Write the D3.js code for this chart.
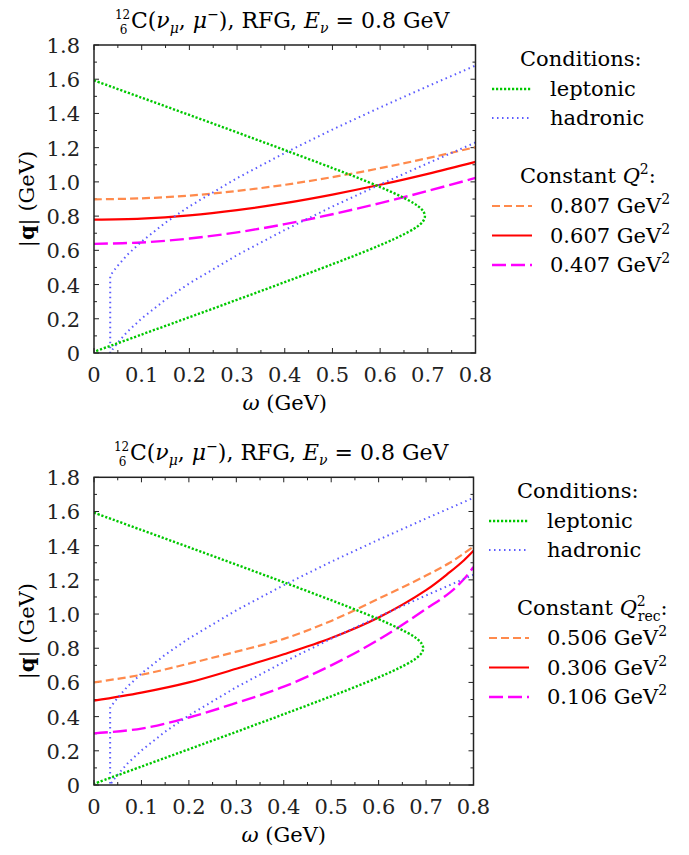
<!DOCTYPE html>
<html>
<head>
<meta charset="utf-8">
<script src="https://cdn.jsdelivr.net/npm/d3@7"></script>
<style>
  body { margin: 0; background: #fff; }
  svg { display: block; }
</style>
</head>
<body>
<div id="chart"></div>
<script>
// Axis ticks
const xTicks = [0, 0.1, 0.2, 0.3, 0.4, 0.5, 0.6, 0.7, 0.8];
const yTicks = [0, 0.2, 0.4, 0.6, 0.8, 1.0, 1.2, 1.4, 1.6, 1.8];

// Leptonic condition (omega, |q|)
const lepW = [0, 0.1, 0.2, 0.3, 0.4, 0.5, 0.55, 0.6, 0.63, 0.65, 0.67, 0.68, 0.69, 0.694,
              0.69, 0.68, 0.67, 0.65, 0.63, 0.6, 0.55, 0.5, 0.4, 0.3, 0.2, 0.1, 0];
const lepQ = [1.593, 1.492, 1.391, 1.289, 1.186, 1.081, 1.027, 0.970, 0.933, 0.906, 0.876, 0.857, 0.830, 0.800,
              0.770, 0.743, 0.724, 0.694, 0.667, 0.630, 0.573, 0.519, 0.414, 0.311, 0.209, 0.108, 0.007];

// Hadronic condition
const hadW = [0.8, 0.7, 0.6, 0.5, 0.4, 0.3, 0.2, 0.15, 0.1, 0.07, 0.05, 0.04, 0.034,
              0.034, 0.036, 0.04, 0.045, 0.05, 0.07, 0.1, 0.15, 0.2, 0.3, 0.4, 0.5, 0.6, 0.7, 0.8];
const hadQ = [1.230, 1.109, 0.985, 0.856, 0.719, 0.572, 0.407, 0.312, 0.202, 0.124, 0.061, 0.025, 0.000,
              0.450, 0.459, 0.475, 0.493, 0.511, 0.574, 0.652, 0.762, 0.857, 1.022, 1.169, 1.306, 1.435, 1.559, 1.680];

// Constant Q^2 (top panel)
const q2W = [0, 0.1, 0.2, 0.3, 0.4, 0.5, 0.6, 0.7, 0.8];
const q2Labels = ["0.807", "0.607", "0.407"];
const q2Vals = [
  [0.898, 0.904, 0.920, 0.947, 0.983, 1.028, 1.080, 1.139, 1.203],
  [0.779, 0.785, 0.804, 0.835, 0.876, 0.926, 0.983, 1.047, 1.117],
  [0.638, 0.646, 0.669, 0.705, 0.753, 0.811, 0.876, 0.947, 1.023]
];

// Constant Q^2_rec (bottom panel)
const q2recW = [0, 0.1, 0.2, 0.3, 0.4, 0.5, 0.6, 0.7, 0.75, 0.78, 0.8];
const q2recLabels = ["0.506", "0.306", "0.106"];
const q2recVals = [
  [0.600, 0.645, 0.710, 0.780, 0.855, 0.960, 1.090, 1.225, 1.300, 1.355, 1.395],
  [0.493, 0.540, 0.600, 0.680, 0.765, 0.860, 0.980, 1.140, 1.245, 1.315, 1.370],
  [0.302, 0.330, 0.395, 0.480, 0.575, 0.700, 0.850, 1.030, 1.125, 1.205, 1.275]
];

const W = 689, H = 855;
const FS = 21;
const FONT = "'DejaVu Serif', 'Liberation Serif', serif";

const styles = {
  lep: { color: "#00c800", width: 2.4, dash: "2.2,1.8" },
  had: { color: "#5b5bff", width: 2, dash: "1.5,3.5" },
  c0: { color: "#ff8a4c", width: 2.2, dash: "8,4" },
  c1: { color: "#ff0000", width: 2.2, dash: null },
  c2: { color: "#ff00ff", width: 2.4, dash: "14,5" }
};

const svg = d3.select("#chart").append("svg")
  .attr("width", W).attr("height", H)
  .attr("font-family", FONT);

// title: 12/6 C(nu_mu, mu-), RFG, E_nu = 0.8 GeV
function drawTitle(cx, baseY) {
  const t = svg.append("text").attr("x", 0).attr("y", 0).attr("font-size", 22);
  t.append("tspan").attr("font-size", 12).attr("dy", -9).text("12");
  t.append("tspan").attr("font-size", 12).attr("dx", -10.5).attr("dy", 15).text("6");
  t.append("tspan").attr("dx", 3.5).attr("dy", -6).text("C(");
  t.append("tspan").attr("font-style", "italic").text("ν");
  t.append("tspan").attr("font-style", "italic").attr("font-size", 14).attr("dy", 5).text("μ");
  t.append("tspan").attr("dy", -5).text(", ");
  t.append("tspan").attr("font-style", "italic").text("μ");
  t.append("tspan").attr("font-size", 14).attr("dy", -9).text("−");
  t.append("tspan").attr("dy", 9).text("), RFG, ");
  t.append("tspan").attr("font-style", "italic").text("E");
  t.append("tspan").attr("font-style", "italic").attr("font-size", 14).attr("dy", 5).text("ν");
  t.append("tspan").attr("dy", -5).text(" = 0.8 GeV");
  const w = t.node().getComputedTextLength();
  t.attr("transform", `translate(${cx - w / 2},${baseY})`);
}

function drawPanel(p) {
  const x = d3.scaleLinear().domain([0, 0.8]).range([p.x0, p.x1]);
  const y = d3.scaleLinear().domain([0, 1.8]).range([p.y1, p.y0]);

  const clipId = "clip" + p.id;
  svg.append("clipPath").attr("id", clipId)
    .append("rect").attr("x", p.x0).attr("y", p.y0)
    .attr("width", p.x1 - p.x0).attr("height", p.y1 - p.y0);

  // ticks on all four sides, pointing inward
  const tg = svg.append("g").attr("stroke", "#222").attr("stroke-width", 1);
  d3.range(0, 0.8001, 0.05).forEach((v, i) => {
    const len = i % 2 === 0 ? 5 : 3;
    tg.append("line").attr("x1", x(v)).attr("x2", x(v)).attr("y1", p.y1).attr("y2", p.y1 - len);
    tg.append("line").attr("x1", x(v)).attr("x2", x(v)).attr("y1", p.y0).attr("y2", p.y0 + len);
  });
  d3.range(0, 1.8001, 0.1).forEach((v, i) => {
    const len = i % 2 === 0 ? 5 : 3;
    tg.append("line").attr("y1", y(v)).attr("y2", y(v)).attr("x1", p.x0).attr("x2", p.x0 + len);
    tg.append("line").attr("y1", y(v)).attr("y2", y(v)).attr("x1", p.x1).attr("x2", p.x1 - len);
  });

  // tick labels
  svg.append("g").selectAll("text").data(xTicks).join("text")
    .attr("x", d => x(d)).attr("y", p.y1 + 29)
    .attr("text-anchor", "middle").attr("font-size", FS).attr("fill", "#222")
    .text(d => d === 0 ? "0" : d3.format(".1f")(d));
  svg.append("g").selectAll("text").data(yTicks).join("text")
    .attr("x", p.x0 - 14).attr("y", d => y(d) + 8)
    .attr("text-anchor", "end").attr("font-size", FS).attr("fill", "#222")
    .text(d => d === 0 ? "0" : d3.format(".1f")(d));

  // axis titles
  const xt = svg.append("text").attr("x", (p.x0 + p.x1) / 2).attr("y", p.y1 + 57)
    .attr("text-anchor", "middle").attr("font-size", FS);
  xt.append("tspan").attr("font-style", "italic").text("ω");
  xt.append("tspan").text(" (GeV)");

  const yt = svg.append("text")
    .attr("transform", `translate(${p.x0 - 60},${(p.y0 + p.y1) / 2}) rotate(-90)`)
    .attr("text-anchor", "middle").attr("font-size", FS);
  yt.append("tspan").text("|");
  yt.append("tspan").attr("font-weight", "bold").text("q");
  yt.append("tspan").text("| (GeV)");

  drawTitle((p.x0 + p.x1) / 2 + 1, p.y0 - 17);

  // curves
  const plot = svg.append("g").attr("clip-path", `url(#${clipId})`);
  const lineLin = d3.line().x(d => x(d[0])).y(d => y(d[1]));
  const lineCR = d3.line().x(d => x(d[0])).y(d => y(d[1])).curve(d3.curveCatmullRom.alpha(0.5));

  function stroke(sel, s) {
    sel.attr("fill", "none").attr("stroke", s.color).attr("stroke-width", s.width);
    if (s.dash) sel.attr("stroke-dasharray", s.dash);
    return sel;
  }

  const curveKeys = ["c0", "c1", "c2"];
  p.cVals.forEach((vals, i) => {
    stroke(plot.append("path"), styles[curveKeys[i]])
      .attr("d", lineCR(p.cW.map((w, j) => [w, vals[j]])));
  });
  stroke(plot.append("path"), styles.had).attr("d", lineLin(hadW.map((w, j) => [w, hadQ[j]])));
  stroke(plot.append("path"), styles.lep).attr("d", lineCR(lepW.map((w, j) => [w, lepQ[j]])));

  // frame
  svg.append("rect").attr("x", p.x0).attr("y", p.y0)
    .attr("width", p.x1 - p.x0).attr("height", p.y1 - p.y0)
    .attr("fill", "none").attr("stroke", "#222").attr("stroke-width", 1.5);

  // legend
  const lg = svg.append("g");
  const lx0 = p.lx, lx1 = p.lx + 40, tx = p.lx + 58;
  lg.append("text").attr("x", tx - 30).attr("y", p.ly + 8).attr("font-size", FS).text("Conditions:");
  [["lep", "leptonic"], ["had", "hadronic"]].forEach((d, i) => {
    const yy = p.ly + 31 + i * 29;
    stroke(lg.append("line"), styles[d[0]]).attr("x1", lx0).attr("x2", lx1).attr("y1", yy).attr("y2", yy);
    lg.append("text").attr("x", tx).attr("y", yy + 7).attr("font-size", FS).text(d[1]);
  });
  const ct = lg.append("text").attr("x", tx - 30).attr("y", p.ly + 125).attr("font-size", FS);
  ct.append("tspan").text("Constant ");
  ct.append("tspan").attr("font-style", "italic").text("Q");
  ct.append("tspan").attr("font-size", 14).attr("dy", -9).text("2");
  if (p.rec) {
    ct.append("tspan").attr("font-size", 14).attr("dx", -8).attr("dy", 15).text("rec");
    ct.append("tspan").attr("dy", -6).text(":");
  } else {
    ct.append("tspan").attr("dy", 9).text(":");
  }
  p.cLabels.forEach((lab, i) => {
    const yy = p.ly + 148 + i * 29.5;
    stroke(lg.append("line"), styles[curveKeys[i]]).attr("x1", lx0).attr("x2", lx1).attr("y1", yy).attr("y2", yy);
    const t = lg.append("text").attr("x", tx).attr("y", yy + 7).attr("font-size", FS);
    t.append("tspan").text(lab + " GeV");
    t.append("tspan").attr("font-size", 14).attr("dy", -9).text("2");
  });
}

drawPanel({ id: 1, x0: 94, x1: 475.5, y0: 45, y1: 353,
  cW: q2W, cVals: q2Vals, cLabels: q2Labels, rec: false, lx: 492, ly: 58 });
drawPanel({ id: 2, x0: 94, x1: 473.5, y0: 477.3, y1: 785,
  cW: q2recW, cVals: q2recVals, cLabels: q2recLabels, rec: true, lx: 489, ly: 490 });
</script>
</body>
</html>
